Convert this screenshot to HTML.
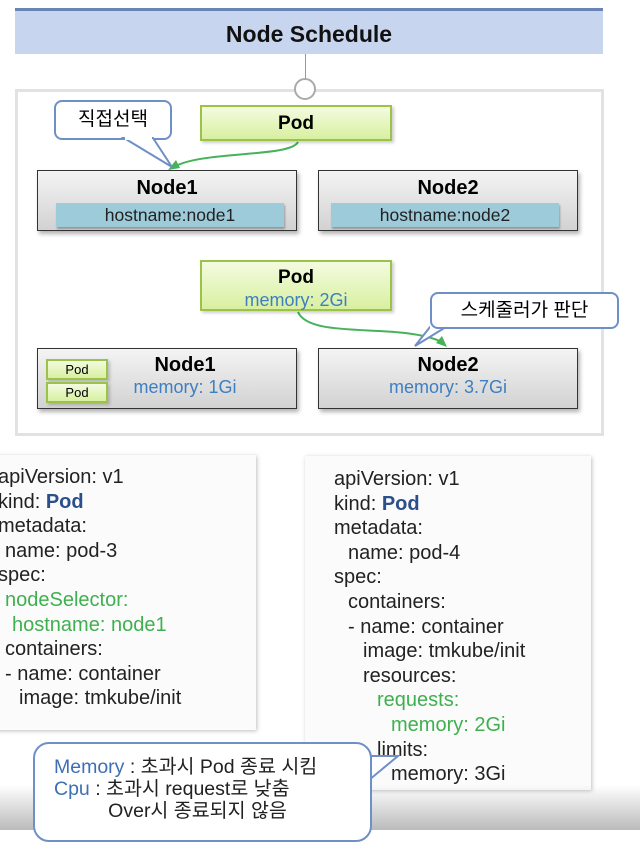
<!DOCTYPE html>
<html><head><meta charset="utf-8"><style>
body{margin:0;width:640px;height:830px;overflow:hidden;background:#fff;position:relative;font-family:"Liberation Sans","Noto Sans CJK KR",sans-serif}
.a{position:absolute;box-sizing:border-box}
.node{background:linear-gradient(#f4f4f4,#d2d2d2);border:1.5px solid #333;box-shadow:2px 3px 4px rgba(0,0,0,.3);text-align:center;font-weight:bold;font-size:20px}
.pod{background:linear-gradient(#f4fbe0,#d8f0a0);border:2px solid #9bc34a;text-align:center;font-weight:bold;font-size:19px;box-shadow:2px 2px 3px rgba(0,0,0,.2)}
.host{background:#9ecbd9;font-weight:normal;font-size:17.5px;color:#222;text-align:center;box-shadow:1px 2px 2px rgba(0,0,0,.3)}
.mem{color:#3d7fc1;font-weight:normal;font-size:18px}
.card{background:#fbfbfb;box-shadow:1px 1px 4px rgba(0,0,0,.25);font-size:20px;line-height:24.6px;color:#222;white-space:nowrap}
.g{color:#3fb04f}.k{color:#2a4f8a;font-weight:bold}
.co{background:#fff;border:2px solid #6f8fc7;border-radius:8px;font-size:19px}
</style></head><body>
<div class="a" style="left:15px;top:8px;width:588px;height:46px;background:#c8d5ee;border-top:3px solid #6a84b8;text-align:center;font-weight:bold;font-size:23px;line-height:46px;color:#111">Node Schedule</div>
<div class="a" style="left:305px;top:54px;width:1px;height:26px;background:#999"></div>
<div class="a" style="left:15px;top:89px;width:589px;height:347px;border:3px solid #e2e2e2"></div>
<div class="a" style="left:294px;top:78px;width:22px;height:22px;border-radius:50%;border:2px solid #aaa;background:#fff"></div>
<svg class="a" style="left:0;top:0" width="640" height="440">
<path d="M298 142 C290 158 200 150 172 168" stroke="#47b25a" stroke-width="2" fill="none"/>
<polygon points="168,170 176,160 180,168" fill="#47b25a"/>
<path d="M298 312 C310 340 400 322 442 342" stroke="#47b25a" stroke-width="2" fill="none"/>
<polygon points="447,347 436,343 442,336" fill="#47b25a"/>
</svg>
<div class="a co" style="left:54px;top:100px;width:118px;height:40px;line-height:36px;text-align:center">직접선택</div>
<svg class="a" style="left:120px;top:137px" width="60" height="34"><polygon points="4,1 33,1 52,30" fill="#fff" stroke="#6f8fc7" stroke-width="2"/><rect x="5" y="0" width="27" height="3" fill="#fff"/></svg>
<div class="a pod" style="left:200px;top:105px;width:192px;height:36px;line-height:34px">Pod</div>
<div class="a node" style="left:37px;top:170px;width:260px;height:61px;padding-top:6px">Node1<div class="a host" style="left:18px;top:32px;width:228px;height:24px;line-height:24px">hostname:node1</div></div>
<div class="a node" style="left:318px;top:170px;width:260px;height:61px;padding-top:6px">Node2<div class="a host" style="left:12px;top:32px;width:228px;height:24px;line-height:24px">hostname:node2</div></div>
<div class="a pod" style="left:200px;top:260px;width:192px;height:51px;padding-top:4px;line-height:23px">Pod<br><span class="mem">memory: 2Gi</span></div>
<svg class="a" style="left:410px;top:326px" width="40" height="22"><polygon points="20,1 36,1 5,20" fill="#fff" stroke="#6f8fc7" stroke-width="2"/><rect x="20" y="0" width="16" height="3" fill="#fff"/></svg>
<div class="a co" style="left:430px;top:292px;width:189px;height:37px;line-height:34px;text-align:center">스케줄러가 판단</div>
<div class="a node" style="left:37px;top:348px;width:260px;height:61px;padding:5px 0 0 36px;line-height:22px">Node1<br><span class="mem">memory: 1Gi</span>
<div class="a pod" style="left:8px;top:10px;width:62px;height:21px;font-size:13px;font-weight:normal;line-height:18px">Pod</div>
<div class="a pod" style="left:8px;top:33px;width:62px;height:21px;font-size:13px;font-weight:normal;line-height:18px">Pod</div></div>
<div class="a node" style="left:318px;top:348px;width:260px;height:61px;padding-top:5px;line-height:22px">Node2<br><span class="mem">memory: 3.7Gi</span></div>
<div class="a card" style="left:-8px;top:455px;width:264px;height:275px;padding:10px 0 0 6px">
<div>apiVersion: v1</div>
<div>kind: <span class="k">Pod</span></div>
<div>metadata:</div>
<div style="margin-left:7px">name: pod-3</div>
<div>spec:</div>
<div class="g" style="margin-left:7px">nodeSelector:</div>
<div class="g" style="margin-left:14px">hostname: node1</div>
<div style="margin-left:7px">containers:</div>
<div style="margin-left:7px">- name: container</div>
<div style="margin-left:21px">image: tmkube/init</div>
</div>
<div class="a card" style="left:305px;top:456px;width:286px;height:334px;padding:11px 0 0 29px">
<div>apiVersion: v1</div>
<div>kind: <span class="k">Pod</span></div>
<div>metadata:</div>
<div style="margin-left:14px">name: pod-4</div>
<div>spec:</div>
<div style="margin-left:14px">containers:</div>
<div style="margin-left:14px">- name: container</div>
<div style="margin-left:29px">image: tmkube/init</div>
<div style="margin-left:29px">resources:</div>
<div class="g" style="margin-left:43px">requests:</div>
<div class="g" style="margin-left:57px">memory: 2Gi</div>
<div style="margin-left:43px">limits:</div>
<div style="margin-left:57px">memory: 3Gi</div>
</div>
<div class="a" style="left:0;top:785px;width:640px;height:45px;background:linear-gradient(rgba(255,255,255,0),rgba(170,170,170,.8))"></div>
<svg class="a" style="left:362px;top:755px" width="40" height="40"><polygon points="1,1 36,1 1,30" fill="#fff" stroke="#6f8fc7" stroke-width="2"/><rect x="0" y="2" width="3" height="27" fill="#fff"/></svg>
<div class="a co" style="left:33px;top:742px;width:339px;height:100px;border-radius:16px;padding:12px 0 0 19px;font-size:19.5px;line-height:22px;white-space:pre;color:#222"><span style="color:#3d6fb5">Memory</span> : 초과시 Pod 종료 시킴
<span style="color:#3d6fb5">Cpu</span> : 초과시 request로 낮춤
          Over시 종료되지 않음</div>
</body></html>
